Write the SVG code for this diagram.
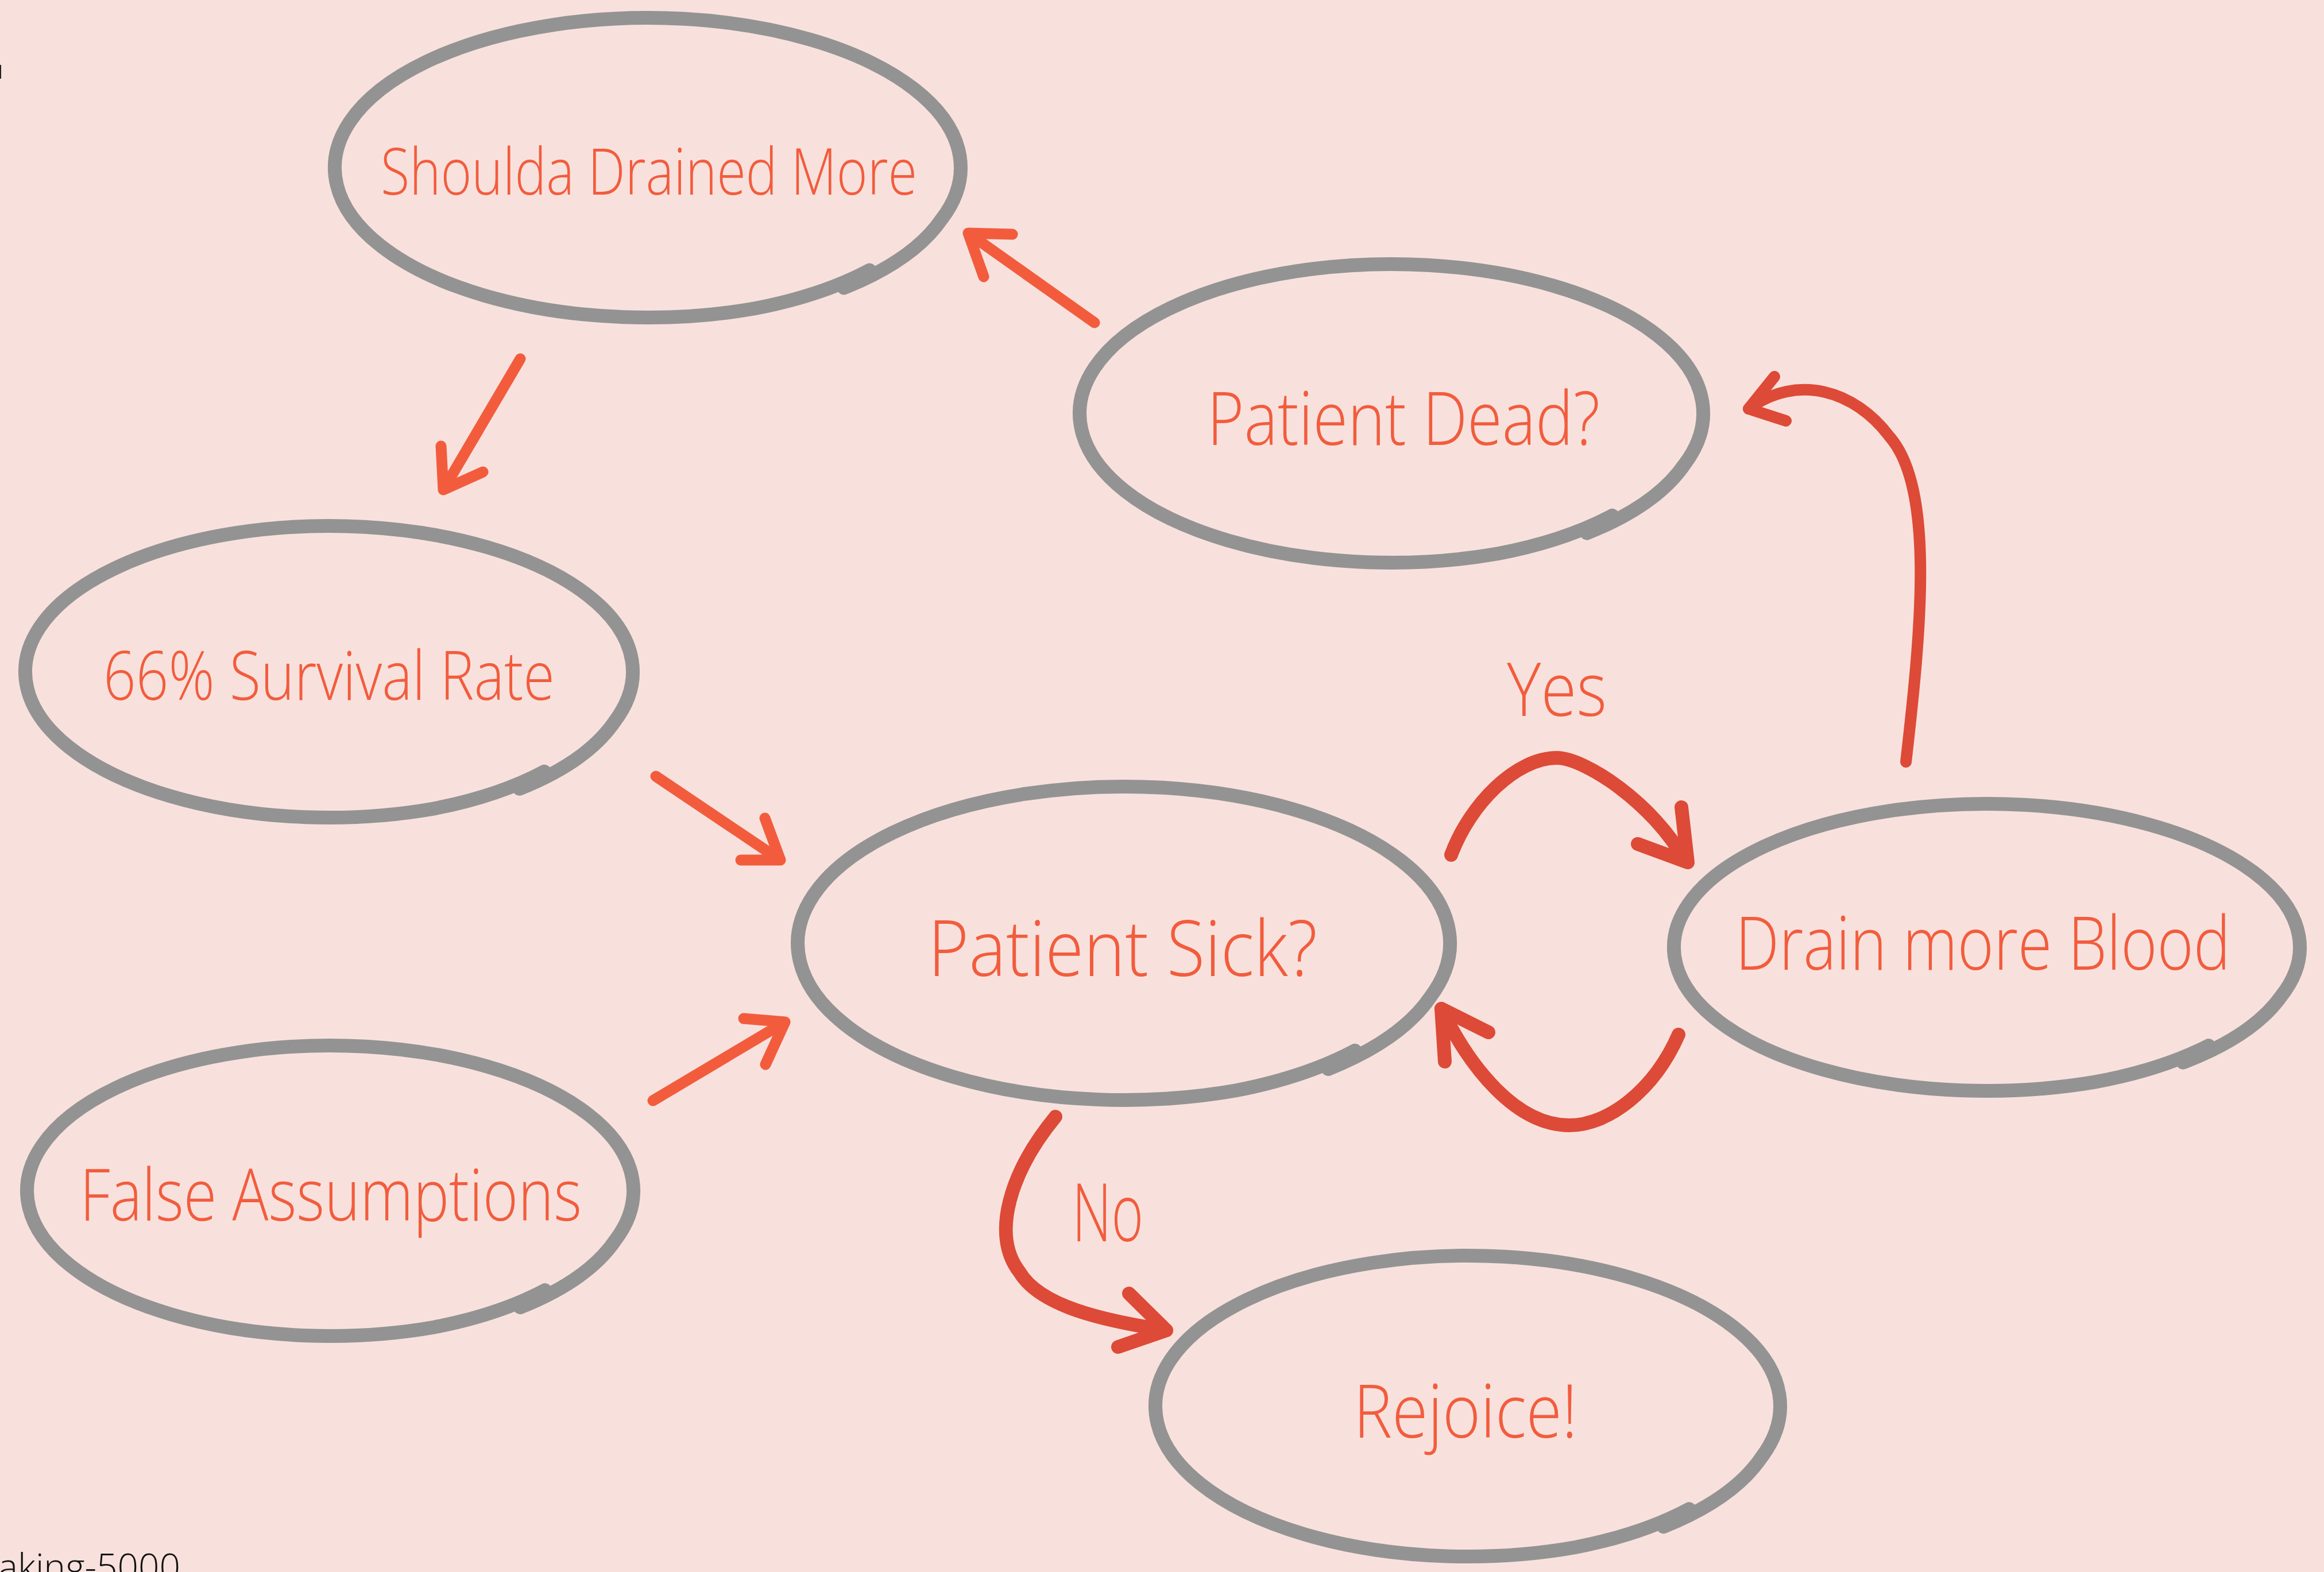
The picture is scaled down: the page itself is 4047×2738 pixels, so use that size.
<svg xmlns="http://www.w3.org/2000/svg" width="4047" height="2738" viewBox="0 0 4047 2738">
<style>
.bg{fill:#F8E1DC}
.node{fill:none;stroke:#939393;stroke-width:24;stroke-linecap:round;stroke-linejoin:round}
.lbl{font-family:"Open Sans","Liberation Sans",sans-serif;fill:#F25C3D;font-weight:300}
.str{fill:none;stroke:#F25C3D;stroke-width:19;stroke-linecap:round;stroke-linejoin:round}
.crv{fill:none;stroke:#DD4A37;stroke-width:22;stroke-linecap:round;stroke-linejoin:round}
.foot{font-family:"Open Sans","Liberation Sans",sans-serif;fill:#111;font-size:64px;font-weight:300}
</style>
<rect class="bg" x="0" y="0" width="4047" height="2738"/>
<rect x="0" y="113" width="2" height="24" fill="#222"/>
<text class="foot" x="-3" y="2752">aking-5000</text>

<g id="connectors">
  <g id="e-dead-shoulda"><path class="str" d="M1906 562 L1686 406 M1763 408 L1686 406 L1713 482"/></g>
  <g id="e-shoulda-66"><path class="str" d="M906 625 L772 853 M768 777 L772 853 L841 822"/></g>
  <g id="e-66-sick"><path class="str" d="M1142 1352 L1359 1498 M1332 1425 L1359 1498 L1290 1498"/></g>
  <g id="e-false-sick"><path class="str" d="M1137 1917 L1367 1780 M1295 1774 L1367 1780 L1333 1854"/></g>
  <g id="e-sick-drain"><path class="crv" style="stroke-width:24" d="M2527 1489 C2560 1400 2640 1320 2711 1320 C2760 1320 2880 1400 2934 1499"/><path class="crv" style="stroke-width:24" d="M2928 1406 L2939 1502 L2852 1470"/></g>
  <g id="e-drain-sick"><path class="crv" style="stroke-width:24" d="M2923 1802 C2880 1900 2800 1960 2733 1960 C2640 1960 2560 1860 2510 1757"/><path class="crv" style="stroke-width:24" d="M2516 1849 L2510 1757 L2592 1798"/></g>
  <g id="e-drain-dead"><path class="crv" style="stroke-width:20" d="M3319 1327 C3345 1100 3370 850 3290 760 C3230 680 3130 650 3045 712"/><path class="crv" style="stroke-width:20" d="M3090 656 L3045 712 L3110 733"/></g>
  <g id="e-sick-rejoice"><path class="crv" style="stroke-width:24" d="M1838 1945 C1760 2040 1725 2150 1775 2215 C1810 2275 1920 2300 2031 2317"/><path class="crv" style="stroke-width:24" d="M1966 2253 L2031 2317 L1947 2346"/></g>
  <text class="lbl" x="2624" y="1247" font-size="130" textLength="174" lengthAdjust="spacingAndGlyphs">Yes</text>
  <text class="lbl" x="1867" y="2162" font-size="140" textLength="124" lengthAdjust="spacingAndGlyphs">No</text>
</g>

<g id="n-shoulda">
  <path class="node" d="M1514.1 470.6 Q1430.5 515.1 1314.4 537.3 A545 261 0 1 1 1640.1 381.3 Q1591 453.1 1469.6 501.4"/>
  <text class="lbl" x="663" y="339" font-size="112" textLength="934" lengthAdjust="spacingAndGlyphs">Shoulda Drained More</text>
</g>
<g id="n-dead">
  <path class="node" d="M2807.7 897.9 Q2724.4 942.2 2608.7 964.3 A543 260 0 1 1 2933.3 808.9 Q2884.3 880.5 2763.4 928.6"/>
  <text class="lbl" x="2102" y="775" font-size="130" textLength="684" lengthAdjust="spacingAndGlyphs">Patient Dead?</text>
</g>
<g id="n-66">
  <path class="node" d="M947.8 1343.8 Q866.6 1387.1 753.9 1408.7 A529 254 0 1 1 1070.1 1256.9 Q1022.4 1326.8 904.6 1373.8"/>
  <text class="lbl" x="180" y="1219" font-size="118" textLength="786" lengthAdjust="spacingAndGlyphs">66% Survival Rate</text>
</g>
<g id="n-sick">
  <path class="node" d="M2359.4 1829.8 Q2272.2 1876.3 2151.3 1899.5 A568 273 0 1 1 2490.8 1736.4 Q2439.5 1811.5 2313 1862"/>
  <text class="lbl" x="1616" y="1700" font-size="135" textLength="678" lengthAdjust="spacingAndGlyphs">Patient Sick?</text>
</g>
<g id="n-drain">
  <path class="node" d="M3846.1 1821.1 Q3762.5 1863.7 3646.4 1884.9 A545 250 0 1 1 3972.1 1735.5 Q3923 1804.3 3801.6 1850.6"/>
  <text class="lbl" x="3022" y="1689" font-size="130" font-weight="400" textLength="862" lengthAdjust="spacingAndGlyphs">Drain more Blood</text>
</g>
<g id="n-false">
  <path class="node" d="M949.1 2247.1 Q868 2290.2 755.6 2311.7 A528 253 0 1 1 1071.2 2160.5 Q1023.5 2230.2 906 2277"/>
  <text class="lbl" x="139" y="2126" font-size="125" textLength="874" lengthAdjust="spacingAndGlyphs">False Assumptions</text>
</g>
<g id="n-rejoice">
  <path class="node" d="M2941.4 2628.3 Q2857.9 2672.9 2742 2695.2 A544 262 0 1 1 3067.2 2538.6 Q3018.1 2610.7 2897 2659.2"/>
  <text class="lbl" x="2357" y="2504" font-size="130" textLength="390" lengthAdjust="spacingAndGlyphs">Rejoice!</text>
</g>
</svg>
